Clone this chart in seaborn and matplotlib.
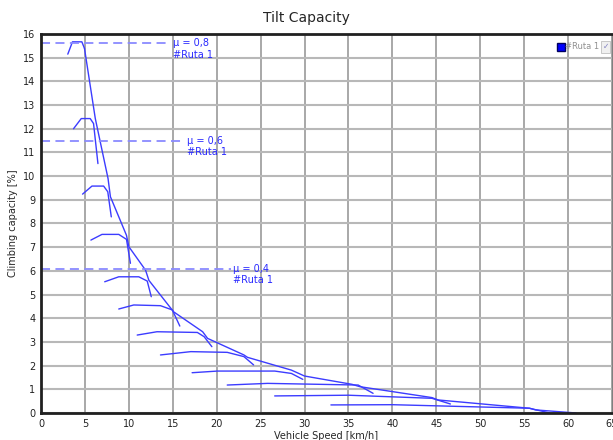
import matplotlib
matplotlib.use("Agg")
import matplotlib.pyplot as plt
import seaborn as sns

# -------------------------------------------------------------------
# Data (speed in km/h, climbing capacity in %)
# -------------------------------------------------------------------

# one curve per gear: rise, plateau, shoulder, tail
gear_speeds = [
    [3.05, 3.58, 4.65, 4.95],
    [3.7, 4.58, 5.6, 5.98, 6.48],
    [4.73, 5.8, 7.13, 7.6, 8.0],
    [5.68, 6.94, 8.85, 9.73, 10.18],
    [7.25, 8.85, 11.13, 12.09, 12.55],
    [8.85, 10.56, 13.6, 14.95, 15.8],
    [10.95, 13.2, 17.8, 18.57, 19.45],
    [13.6, 17.05, 21.2, 23.1, 24.2],
    [17.2, 20.1, 26.6, 28.5, 29.8],
    [21.2, 25.8, 36.1, 37.8],
    [26.6, 35.0, 44.5, 46.6],
    [33.0, 40.0, 55.6, 57.9],
]
gear_capacity = [
    [15.15, 15.67, 15.67, 15.39],
    [12.0, 12.43, 12.43, 12.22, 10.53],
    [9.24, 9.58, 9.58, 9.34, 8.28],
    [7.3, 7.54, 7.54, 7.33, 6.32],
    [5.54, 5.75, 5.75, 5.57, 4.91],
    [4.39, 4.56, 4.53, 4.35, 3.67],
    [3.29, 3.43, 3.40, 3.22, 2.80],
    [2.45, 2.59, 2.56, 2.38, 2.03],
    [1.70, 1.77, 1.77, 1.67, 1.42],
    [1.18, 1.25, 1.18, 0.83],
    [0.72, 0.75, 0.62, 0.38],
    [0.34, 0.35, 0.20, 0.0],
]

# upper envelope of all gears
envelope_speed = [4.95, 6.18, 7.63, 7.9, 9.73, 10.0, 11.9, 12.28, 15.1, 18.4,
                  18.96, 23.1, 23.5, 28.5, 30.0, 35.4, 36.3, 44.5, 45.2, 55.6,
                  56.3, 60.9]
envelope_capacity = [15.39, 12.43, 9.9, 9.13, 7.5, 7.02, 6.03, 5.6, 4.27, 3.43,
                     3.15, 2.45, 2.35, 1.81, 1.56, 1.21, 1.11, 0.65, 0.55, 0.2,
                     0.13, 0.0]

# friction limits
mu_labels = ["μ = 0,8", "μ = 0,6", "μ = 0,4"]
mu_capacity = [15.6, 11.5, 6.1]
mu_line_end = [14.7, 16.3, 21.6]

# -------------------------------------------------------------------
# Plot
# -------------------------------------------------------------------

sns.set_style("white")
plt.rcParams['font.family'] = ['DejaVu Sans']

fig = plt.figure(figsize=(6.13, 4.40), dpi=100)
ax = fig.add_axes([0.0669, 0.0614, 0.9315, 0.8613])

line_color = '#3c3cff'

for xs, ys in zip(gear_speeds, gear_capacity):
    sns.lineplot(x=xs, y=ys, sort=False, estimator=None, color=line_color,
                 linewidth=1.0, ax=ax)
sns.lineplot(x=envelope_speed, y=envelope_capacity, sort=False, estimator=None,
             color=line_color, linewidth=1.0, ax=ax)

for label, cap, x_end in zip(mu_labels, mu_capacity, mu_line_end):
    ax.plot([0, x_end], [cap, cap], linestyle=(0, (5, 3)), color='#8a8aff',
            linewidth=1.3)
    ax.text(x_end + 0.3, cap, label, color='#2a2aff', fontsize=7, va='center')
    ax.text(x_end + 0.3, cap - 0.5, "#Ruta 1", color='#2a2aff', fontsize=7,
            va='center')

ax.set_xlim(0, 65)
ax.set_ylim(0, 16)
ax.set_xticks(range(0, 66, 5))
ax.set_yticks(range(0, 17))
ax.tick_params(labelsize=7, length=0, pad=4, colors='#222222')
ax.grid(True, axis='x', color='#9a9a9a', linewidth=1.2)
ax.grid(True, axis='y', color='#b8b8b8', linewidth=1.5)
ax.set_axisbelow(True)
for side in ['left', 'bottom', 'top']:
    ax.spines[side].set_color('#202020')
    ax.spines[side].set_linewidth(2)
ax.spines['right'].set_color('#808080')

ax.set_xlabel('Vehicle Speed [km/h]', fontsize=7, labelpad=2)
ax.set_ylabel('Climbing capacity [%]', fontsize=7, labelpad=4)
fig.text(0.5, 0.958, 'Tilt Capacity', ha='center', va='center', fontsize=10)

# legend box in the top-right corner
ax.plot([0.910], [0.966], marker='s', markersize=6, color='#0000ff',
        markeredgecolor='#000060', transform=ax.transAxes, clip_on=False)
ax.text(0.918, 0.966, '#Ruta 1', transform=ax.transAxes, fontsize=6,
        color='#909090', va='center')
ax.text(0.989, 0.966, '✓', transform=ax.transAxes, fontsize=5.5, color='#8080c0',
        va='center', ha='center',
        bbox=dict(boxstyle='square,pad=0.15', fc='#f0f0f0', ec='#c0c0c0', lw=0.6))

plt.savefig('out.png', dpi=100)
